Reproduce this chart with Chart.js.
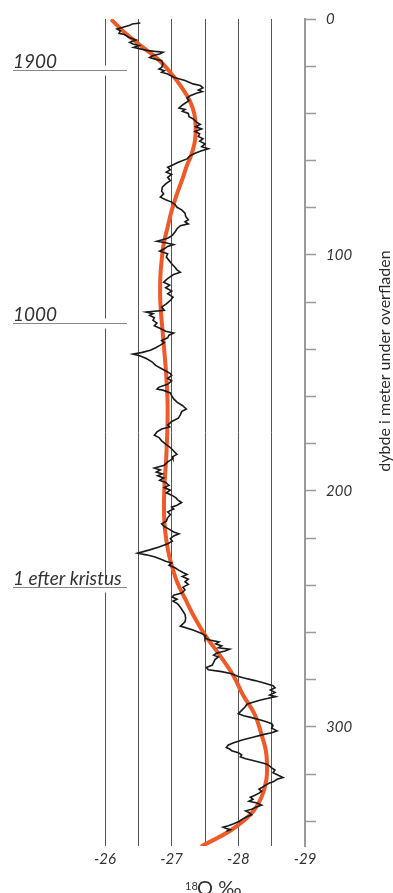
<!DOCTYPE html>
<html>
<head>
<meta charset="utf-8">
<script src="https://cdn.jsdelivr.net/npm/chart.js@4.4.1/dist/chart.umd.min.js"></script>
<style>
  html, body { margin: 0; padding: 0; background: #fff; }
  #wrap { width: 393px; height: 893px; }
</style>
</head>
<body>
<div id="wrap"><canvas id="profil" width="393" height="893"></canvas></div>
<script>
// maalt delta-18O (promille) mod dybde (m)
const dybdeMaalt = [
  1.7, 2.1, 2.8, 3.5, 4.2, 5.0, 6.1, 6.6, 7.8, 8.9, 9.9, 10.6, 11.3, 12.0, 13.4, 14.1, 14.8, 15.5, 16.3, 16.9,
  17.7, 19.1, 20.5, 21.2, 21.9, 22.6, 23.3, 24.7, 25.4, 26.1, 26.8, 27.5, 28.2, 29.2, 30.1, 30.8, 31.5, 32.5, 33.5, 34.6,
  35.7, 36.7, 37.7, 38.3, 39.1, 40.0, 41.4, 42.3, 43.8, 44.7, 45.6, 46.6, 47.6, 48.7, 49.8, 50.8, 51.8, 52.9, 54.1, 55.0,
  55.8, 56.9, 57.9, 59.3,
  60.7, 62.1, 62.8, 63.9, 64.9, 65.9, 67.1, 68.5, 69.9, 71.3, 73.0, 74.1, 75.5, 76.6, 77.6, 78.6, 79.8, 80.9, 82.3, 83.7,
  85.1, 85.9, 86.8, 87.6, 88.9, 90.3, 91.7, 92.9, 93.6, 94.2, 94.7, 95.6, 96.4, 97.4, 98.4, 99.5, 100.9, 102.3, 103.7, 105.2,
  106.3, 107.3, 108.3, 109.4, 110.5, 111.6, 112.8, 113.9, 115.3, 116.4, 117.9, 119.3, 120.7, 122.1,
  123.5, 124.2, 124.9, 125.6, 126.6, 127.7, 128.9, 130.0, 131.2, 132.3, 133.1, 134.0, 135.1, 136.2, 137.2, 138.2, 139.3, 140.4,
  141.3, 142.0, 142.7, 143.9, 145.4, 146.8, 148.2, 149.3, 150.3, 151.1, 152.3, 153.4, 154.8, 156.0, 156.8, 157.4, 158.5, 159.6,
  161.0, 162.4, 163.8, 165.3, 166.4, 167.8, 169.2, 170.6, 172.1, 172.9, 173.8, 175.0, 176.4, 177.4, 178.8, 180.2, 181.6, 183.1,
  184.5, 185.6,
  186.3, 187.7, 189.1, 190.3, 191.1, 192.0, 192.8, 193.6, 194.5, 195.5, 196.4, 197.6, 198.6, 199.7, 200.8, 201.8, 202.8, 203.8,
  204.9, 206.1, 206.9, 207.7, 208.9, 210.0, 211.4, 212.8, 214.0, 215.1, 216.2, 217.4, 218.2, 219.1, 220.2, 221.3, 222.4, 223.8,
  225.0, 226.4, 227.1, 227.9, 228.9, 229.8, 230.6, 231.5, 232.6, 233.7, 234.6, 235.4, 236.3, 237.4, 238.5, 239.6, 240.8, 242.0,
  243.3, 244.2, 245.0, 245.9, 246.7, 247.9, 249.3, 250.6, 252.3, 254.0,
  255.5, 256.6, 257.3, 259.0, 260.4, 261.4, 262.3, 263.2, 264.0, 264.8, 265.7, 266.5, 267.1, 267.9, 268.7, 269.6, 270.4, 271.5,
  272.7, 273.8, 274.9, 275.8, 276.6, 277.5, 278.7, 279.4, 280.4, 281.5, 282.6, 283.4, 284.4, 285.4, 286.5, 287.2, 287.9, 288.7,
  289.6, 290.4, 291.6, 293.0, 294.4, 295.3, 296.1, 297.0, 297.8, 298.7, 299.5, 300.6, 301.7,
  302.5, 303.3, 304.4, 305.5, 306.7, 307.7, 308.7, 309.4, 310.1, 311.0, 311.8, 312.7, 313.5, 314.3, 315.0, 315.7, 316.6, 317.4,
  318.3, 319.4, 320.5, 321.5, 322.2, 323.2, 323.9, 324.7, 325.6, 326.4, 327.3, 328.1, 329.0, 329.8, 330.7, 331.5, 332.3, 333.2,
  334.0, 334.9, 335.6, 336.3, 337.3, 338.3, 339.1, 340.1, 341.1, 341.9, 342.5, 343.1, 343.6, 344.3
];
const o18Maalt = [
  -26.53, -26.41, -26.36, -26.27, -26.18, -26.23, -26.21, -26.29, -26.36, -26.47, -26.37, -26.42, -26.51, -26.43, -26.64, -26.87, -26.82, -26.72, -26.67, -26.74,
  -26.85, -26.87, -26.85, -26.81, -26.89, -26.85, -26.94, -27.03, -27.12, -27.20, -27.26, -27.32, -27.43, -27.47, -27.40, -27.46, -27.37, -27.28, -27.23, -27.26,
  -27.20, -27.15, -27.11, -27.20, -27.16, -27.25, -27.26, -27.32, -27.38, -27.43, -27.36, -27.45, -27.35, -27.42, -27.40, -27.47, -27.42, -27.50, -27.45, -27.55,
  -27.45, -27.35, -27.28, -27.23,
  -27.10, -27.00, -26.94, -26.98, -26.92, -27.00, -26.94, -26.98, -26.91, -26.86, -26.85, -26.88, -26.83, -26.91, -27.00, -27.05, -27.08, -27.15, -27.20, -27.21,
  -27.25, -27.20, -27.25, -27.13, -27.08, -27.05, -27.01, -26.94, -26.86, -26.78, -26.89, -27.03, -26.94, -26.89, -26.82, -26.94, -26.92, -26.96, -27.00, -27.05,
  -27.08, -27.13, -27.03, -26.97, -26.92, -26.88, -26.97, -26.91, -27.00, -26.94, -27.02, -26.98, -26.92, -26.85,
  -26.89, -26.62, -26.72, -26.67, -26.74, -26.72, -26.78, -26.74, -26.83, -26.91, -27.03, -26.96, -26.94, -26.85, -26.89, -26.83, -26.76, -26.68,
  -26.56, -26.42, -26.52, -26.62, -26.71, -26.76, -26.85, -26.92, -26.98, -27.00, -26.94, -27.00, -26.94, -26.81, -26.78, -26.88, -26.98, -27.00,
  -27.03, -27.08, -27.16, -27.22, -27.15, -27.13, -27.10, -27.00, -26.94, -26.97, -26.85, -26.78, -26.74, -26.81, -26.85, -26.91, -26.98, -27.03,
  -27.08, -27.01,
  -27.02, -26.94, -26.89, -26.74, -26.83, -26.77, -26.86, -26.79, -26.88, -26.82, -26.91, -26.96, -26.89, -26.98, -26.92, -27.00, -27.06, -27.09,
  -27.15, -27.08, -27.00, -27.03, -26.94, -26.98, -26.94, -26.92, -26.85, -26.89, -26.96, -27.03, -27.11, -27.03, -26.98, -27.01, -26.94, -26.81,
  -26.67, -26.49, -26.62, -26.74, -26.83, -26.91, -27.00, -26.96, -27.05, -27.11, -27.17, -27.23, -27.16, -27.25, -27.20, -27.25, -27.17, -27.20,
  -27.15, -27.03, -27.01, -27.08, -27.02, -27.09, -27.13, -27.16, -27.20, -27.21,
  -27.20, -27.16, -27.13, -27.32, -27.45, -27.51, -27.50, -27.57, -27.71, -27.66, -27.75, -27.70, -27.87, -27.80, -27.68, -27.63, -27.70, -27.65,
  -27.63, -27.61, -27.52, -27.55, -27.75, -27.90, -28.00, -28.10, -28.25, -28.40, -28.52, -28.55, -28.48, -28.55, -28.47, -28.56, -28.45, -28.32,
  -28.22, -28.13, -28.10, -28.05, -28.00, -28.08, -28.20, -28.32, -28.42, -28.50, -28.52, -28.50, -28.58,
  -28.50, -28.37, -28.22, -28.07, -27.93, -27.85, -27.82, -27.87, -27.90, -28.00, -28.05, -28.03, -28.11, -28.22, -28.32, -28.42, -28.47, -28.50,
  -28.55, -28.52, -28.60, -28.67, -28.58, -28.53, -28.46, -28.41, -28.36, -28.31, -28.35, -28.31, -28.25, -28.18, -28.22, -28.16, -28.28, -28.35,
  -28.27, -28.20, -28.11, -28.16, -28.20, -28.11, -28.06, -28.01, -27.93, -27.85, -27.77, -27.82, -27.88, -27.82
];

// udglattet kurve
const dybdeGlat = [0.7, 6.4, 12.0, 17.7, 23.3, 29.0, 34.6, 40.2, 45.9, 51.5, 57.2, 62.0, 67.1, 74.1, 81.2, 88.2, 95.3, 102.3, 109.4, 120,
  137.6, 151.7, 165.8, 185, 199, 213, 224.4, 231.5, 238.5, 245.6, 254.0, 261.1, 269.6, 278.0, 286.5, 295.0, 303.5, 309.7, 315.4, 322.5,
  329.6, 336.6, 343.6, 350.4];
const o18Glat = [-26.11, -26.32, -26.57, -26.82, -27.0, -27.15, -27.27, -27.34, -27.36, -27.35, -27.30, -27.23, -27.17, -27.08, -27.0, -26.94, -26.88, -26.85, -26.83, -26.83,
  -26.88, -26.92, -26.94, -26.92, -26.89, -26.89, -26.94, -27.0, -27.08, -27.20, -27.35, -27.50, -27.72, -27.92, -28.07, -28.25, -28.35, -28.41, -28.43, -28.42,
  -28.35, -28.20, -27.90, -27.46];

// aarstal ved dybde
const aarLabels = ["1900", "1000", "1 efter kristus"];
const aarDybde = [21.6, 128.9, 240.9];

const xTicks = [-26, -27, -28, -29];
const yTicks = [0, 100, 200, 300];

const fontNavn = "Lato, 'Open Sans', sans-serif";

const ekstra = {
  id: "ekstra",
  afterDraw(chart) {
    const ctx = chart.ctx;
    const x = chart.scales.x;
    const y = chart.scales.y;
    ctx.save();

    // aarstal-markeringer til venstre
    aarLabels.forEach((lab, i) => {
      const py = Math.round(y.getPixelForValue(aarDybde[i])) + 0.5;
      const gx = x.getPixelForValue(-26);
      ctx.fillStyle = "#fff";
      ctx.fillRect(gx - 3, py - 5, 6, 10);
      ctx.strokeStyle = "#888";
      ctx.lineWidth = 1;
      ctx.beginPath();
      ctx.moveTo(13, py);
      ctx.lineTo(127, py);
      ctx.stroke();
      ctx.fillStyle = "#333";
      ctx.font = "italic 19px " + fontNavn;
      ctx.textAlign = "left";
      ctx.textBaseline = "alphabetic";
      ctx.fillText(lab, 13, py - 2.5);
    });

    // y-aksens titel, laest nedefra og op
    ctx.translate(385, 361);
    ctx.rotate(-Math.PI / 2);
    ctx.font = "16px " + fontNavn;
    ctx.fillStyle = "#2a2a2a";
    ctx.textAlign = "center";
    ctx.textBaseline = "middle";
    ctx.fillText("dybde i meter under overfladen", 0, 0);
    ctx.restore();

    // x-aksens titel med haevet 18
    ctx.save();
    ctx.fillStyle = "#333";
    ctx.textAlign = "left";
    ctx.textBaseline = "alphabetic";
    ctx.font = "11px " + fontNavn;
    ctx.fillText("18", 185, 889.5);
    ctx.font = "20px " + fontNavn;
    ctx.fillText("O ‰", 197, 895);
    ctx.restore();
  }
};

const maaltData = dybdeMaalt.map((d, i) => ({ x: o18Maalt[i], y: d }));
const glatData = dybdeGlat.map((d, i) => ({ x: o18Glat[i], y: d }));

new Chart(document.getElementById("profil"), {
  type: "scatter",
  data: {
    datasets: [
      {
        label: "maalt",
        data: maaltData,
        showLine: true,
        borderColor: "#1a1a1a",
        borderWidth: 1.6,
        pointRadius: 0,
        tension: 0
      },
      {
        label: "udglattet",
        data: glatData,
        showLine: true,
        borderColor: "#ef5a28",
        borderWidth: 4,
        borderCapStyle: "round",
        pointRadius: 0,
        tension: 0.4
      }
    ]
  },
  options: {
    responsive: false,
    animation: false,
    devicePixelRatio: 1,
    layout: { padding: { left: 105, top: 18, right: 0, bottom: 0 } },
    plugins: {
      legend: { display: false },
      tooltip: { enabled: false }
    },
    events: [],
    scales: {
      x: {
        type: "linear",
        min: -29,
        max: -26,
        reverse: true,
        afterFit: (s) => { s.height = 47; },
        border: { display: false },
        grid: {
          drawTicks: false,
          lineWidth: 1,
          color: (c) => (c.tick && c.tick.value === -29 ? "rgba(0,0,0,0)" : "#555")
        },
        ticks: {
          stepSize: 0.5,
          autoSkip: false,
          maxRotation: 0,
          padding: 4,
          color: "#333",
          font: { family: fontNavn, size: 15, style: "italic" },
          callback: (v) => (xTicks.includes(v) ? String(v) : "")
        }
      },
      y: {
        type: "linear",
        position: "right",
        min: 0,
        max: 350.5,
        reverse: true,
        afterFit: (s) => { s.width = 88; },
        afterBuildTicks: (s) => { s.ticks = s.ticks.filter((t) => t.value % 20 === 0); },
        border: { display: true, color: "#9a9a9a", width: 2 },
        grid: {
          drawOnChartArea: false,
          drawTicks: true,
          tickLength: 11,
          tickWidth: 1.5,
          color: "#9a9a9a"
        },
        ticks: {
          stepSize: 20,
          autoSkip: false,
          padding: 10,
          color: "#333",
          font: { family: fontNavn, size: 15, style: "italic" },
          callback: (v) => (yTicks.includes(v) ? String(v) : "")
        }
      }
    }
  },
  plugins: [ekstra]
});
</script>
</body>
</html>
